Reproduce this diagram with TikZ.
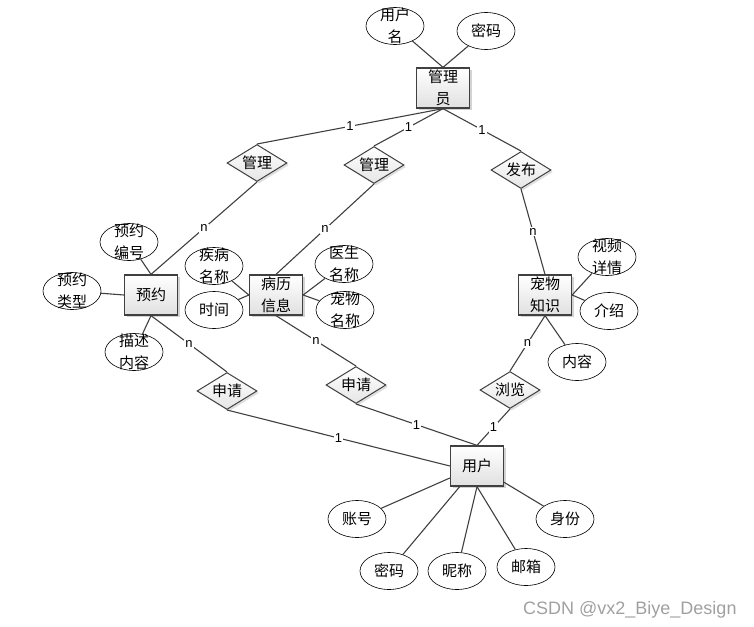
\documentclass[tikz,border=0pt]{standalone}
\usepackage{fontspec}
\setmainfont{Liberation Sans}
\newfontfamily\cjk{Noto Sans CJK SC}
\newfontfamily\lat{Liberation Sans}
\usetikzlibrary{shapes.geometric,shadows}
\definecolor{edgec}{HTML}{404040}
\definecolor{wm}{HTML}{A0A0A0}
\tikzset{
  ent/.style={draw=edgec, line width=1.3pt, rectangle, minimum width=53pt, minimum height=40pt,
    inner sep=0pt, top color=white, bottom color=black!12, align=center,
    drop shadow={shadow xshift=2pt, shadow yshift=-2pt, opacity=0.35},
    font=\cjk\fontsize{15}{22}\selectfont},
  rel/.style={draw=edgec, line width=1pt, diamond, minimum width=60pt, minimum height=37pt,
    inner sep=0pt, aspect=1.6, top color=white, bottom color=black!10,
    drop shadow={shadow xshift=2pt, shadow yshift=-2pt, opacity=0.25},
    font=\cjk\fontsize{15}{22}\selectfont},
  attr/.style={draw=black, line width=0.6pt, ellipse, fill=white, minimum width=58pt, minimum height=37pt, inner sep=0pt},
  atxt/.style={align=center, inner sep=0pt, font=\cjk\fontsize{15}{22}\selectfont},
  ln/.style={draw=edgec, line width=1.1pt},
  card/.style={fill=white, inner sep=1pt, font=\lat\fontsize{13}{15}\selectfont, pos=0.5},
}
\begin{document}
\begin{tikzpicture}[x=1pt,y=-1pt]
\useasboundingbox (0,0) rectangle (754,626);

% entities
\node[ent] (gly) at (443,88) {管理\\员};
\node[ent] (yy) at (151,295) {预约};
\node[ent] (bl) at (276,295) {病历\\信息};
\node[ent] (zs) at (545,295) {宠物\\知识};
\node[ent] (yh) at (477,466) {用户};

% relationships
\node[rel] (g1) at (257,163) {管理};
\node[rel] (g2) at (374,165) {管理};
\node[rel] (fb) at (521,170) {发布};
\node[rel] (s1) at (227,391) {申请};
\node[rel] (s2) at (356,385) {申请};
\node[rel] (ll) at (510,390) {浏览};

% attributes
\node[attr] (a1) at (395,26) {};   \node[atxt] (t1) at (a1) {用户\\名};
\node[attr] (a2) at (486,31) {};   \node[atxt] (t2) at (a2) {密码};
\node[attr] (a3) at (129,242) {};  \node[atxt] (t3) at (a3) {预约\\编号};
\node[attr] (a4) at (72,291) {};   \node[atxt] (t4) at (a4) {预约\\类型};
\node[attr] (a5) at (134,352) {};  \node[atxt] (t5) at (a5) {描述\\内容};
\node[attr] (a6) at (214,266) {};  \node[atxt] (t6) at (a6) {疾病\\名称};
\node[attr] (a7) at (214,310) {};  \node[atxt] (t7) at (a7) {时间};
\node[attr] (a8) at (344,264) {};  \node[atxt] (t8) at (a8) {医生\\名称};
\node[attr] (a9) at (345,310) {};  \node[atxt] (t9) at (a9) {宠物\\名称};
\node[attr] (a10) at (607,257) {}; \node[atxt] (t10) at (a10) {视频\\详情};
\node[attr] (a11) at (609,311) {}; \node[atxt] (t11) at (a11) {介绍};
\node[attr] (a12) at (577,362) {}; \node[atxt] (t12) at (a12) {内容};
\node[attr] (a13) at (357,519) {}; \node[atxt] (t13) at (a13) {账号};
\node[attr] (a14) at (389,571) {}; \node[atxt] (t14) at (a14) {密码};
\node[attr] (a15) at (457,571) {}; \node[atxt] (t15) at (a15) {昵称};
\node[attr] (a16) at (526,567) {}; \node[atxt] (t16) at (a16) {邮箱};
\node[attr] (a17) at (565,519) {}; \node[atxt] (t17) at (a17) {身份};

% relationship connectors
\draw[ln] (gly.south) -- node[card] (c1) {1} (g1.north);
\draw[ln] (gly.south) -- node[card] (c2) {1} (g2.north);
\draw[ln] (gly.south) -- node[card] (c3) {1} (fb.north);
\draw[ln] (g1.south) -- node[card] (c4) {n} (yy.north);
\draw[ln] (g2.south) -- node[card] (c5) {n} (bl.north);
\draw[ln] (fb.south) -- node[card] (c6) {n} (zs.north);
\draw[ln] (yy.south) -- node[card] (c7) {n} (s1.north);
\draw[ln] (bl.south) -- node[card] (c8) {n} (s2.north);
\draw[ln] (zs.south) -- node[card] (c9) {n} (ll.north);
\draw[ln] (s1.south) -- node[card] (c10) {1} (yh.west);
\draw[ln] (s2.south) -- node[card] (c11) {1} (yh.north);
\draw[ln] (ll.south) -- node[card] (c12) {1} (yh.north);

% attribute connectors
\draw[ln] (a1) -- (gly.north);
\draw[ln] (a2) -- (gly.north);
\draw[ln] (a3) -- (yy.north);
\draw[ln] (a4) -- (yy.west);
\draw[ln] (a5) -- (yy.south);
\draw[ln] (a6) -- (bl.west);
\draw[ln] (a7) -- (bl.west);
\draw[ln] (a8) -- (bl.east);
\draw[ln] (a9) -- (bl.east);
\draw[ln] (a10) -- (zs.east);
\draw[ln] (a11) -- (zs.east);
\draw[ln] (a12) -- (zs.south);
\draw[ln] (a13) -- (yh);
\draw[ln] (a14) -- (yh);
\draw[ln] (a15) -- (yh.south);
\draw[ln] (a16) -- (yh.south);
\draw[ln] (a17) -- (yh);

% watermark
\node[anchor=base west, text=wm, inner sep=0pt, font=\lat\fontsize{18}{20}\selectfont] (wmk) at (523,614) {CSDN @vx2\_Biye\_Design};
\end{tikzpicture}
\end{document}
